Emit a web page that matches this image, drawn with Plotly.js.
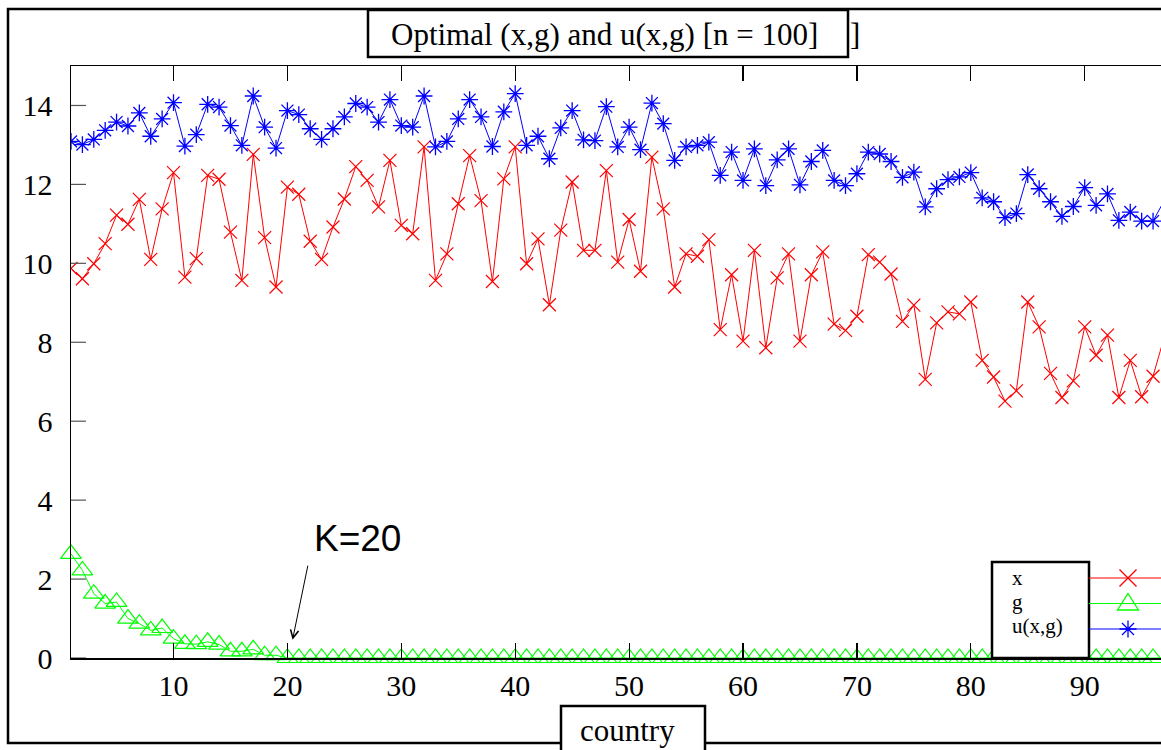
<!DOCTYPE html>
<html>
<head>
<meta charset="utf-8">
<script src="https://cdn.plot.ly/plotly-3.0.1.min.js"></script>
<style>html,body{margin:0;padding:0;background:#fff;}#chart{width:1161px;height:750px;}</style>
</head>
<body>
<div id="chart"></div>
<script>
// ---- data ----
const seriesNames = ["x", "g", "u(x,g)"];
const xValues = [9.87,9.61,9.99,10.50,11.22,10.99,11.62,10.10,11.38,12.30,
  9.65,10.12,12.23,12.13,10.79,9.57,12.76,10.65,9.40,11.93,
  11.75,10.56,10.10,10.92,11.63,12.45,12.10,11.43,12.61,10.96,
  10.75,12.95,9.57,10.24,11.51,12.73,11.59,9.54,12.14,12.95,
  9.99,10.62,8.95,10.84,12.06,10.33,10.33,12.35,10.03,11.11,
  9.80,12.69,11.38,9.40,10.24,10.18,10.60,8.32,9.71,8.03,
  10.33,7.86,9.63,10.24,8.03,9.71,10.29,8.46,8.30,8.66,
  10.22,10.03,9.73,8.53,8.94,7.06,8.49,8.77,8.72,9.02,
  7.54,7.12,6.51,6.77,9.02,8.39,7.21,6.60,7.02,8.39,
  7.67,8.18,6.60,7.54,6.62,7.14,8.15];
const gValues = [2.64,2.22,1.63,1.38,1.42,1.00,0.87,0.70,0.76,0.49,
  0.36,0.35,0.41,0.34,0.17,0.17,0.22,0.07,0.07,0,
  0,0,0,0,0,0,0,0,0,0, 0,0,0,0,0,0,0,0,0,0,
  0,0,0,0,0,0,0,0,0,0, 0,0,0,0,0,0,0,0,0,0,
  0,0,0,0,0,0,0,0,0,0, 0,0,0,0,0,0,0,0,0,0,
  0,0,0,0,0,0,0,0,0,0, 0,0,0,0,0,0,0];
const uValues = [13.09,13.01,13.14,13.37,13.58,13.48,13.81,13.22,13.66,14.07,
  12.97,13.26,14.03,13.96,13.49,12.99,14.24,13.45,12.92,13.87,
  13.77,13.41,13.14,13.41,13.71,14.05,13.96,13.58,14.15,13.49,
  13.45,14.24,12.95,13.09,13.66,14.15,13.71,12.96,13.84,14.30,
  12.99,13.22,12.65,13.43,13.87,13.13,13.11,13.97,12.95,13.45,
  12.88,14.06,13.54,12.61,12.95,12.99,13.07,12.23,12.82,12.10,
  12.90,11.97,12.62,12.90,11.99,12.58,12.86,12.10,11.97,12.27,
  12.82,12.77,12.58,12.18,12.31,11.43,11.89,12.12,12.19,12.30,
  11.66,11.56,11.16,11.26,12.25,11.89,11.56,11.19,11.44,11.92,
  11.47,11.76,11.09,11.30,11.07,11.07,11.60];
const country = xValues.map((_, i) => i + 1);
const xTicks = [10,20,30,40,50,60,70,80,90];
const yTicks = [0,2,4,6,8,10,12,14];
const titleText = "Optimal (x,g) and u(x,g) [n = 100]";
const xAxisText = "country";
const kLabel = "K=20";
const kIndex = 20;

// ---- layout helpers (pixel -> paper) ----
const L = 71, R = 1161, T = 66, B = 658;
const px = v => (v - L) / (R - L);
const py = v => (B - v) / (B - T);
const serif = "Liberation Serif";

const traces = [
  {x: country, y: xValues, name: seriesNames[0], type: "scatter", mode: "lines+markers",
   line: {color: "#ff0000", width: 1},
   marker: {symbol: "x-thin-open", size: 13, color: "#ff0000", line: {color: "#ff0000", width: 1.2}},
   cliponaxis: true},
  {x: country, y: gValues, name: seriesNames[1], type: "scatter", mode: "lines+markers",
   line: {color: "#00ff00", width: 1},
   marker: {symbol: "triangle-up-open", size: 18, color: "#00ff00", line: {color: "#00ff00", width: 1.2}},
   cliponaxis: false},
  {x: country, y: uValues, name: seriesNames[2], type: "scatter", mode: "lines+markers",
   line: {color: "#0000ff", width: 1},
   marker: {symbol: "asterisk-open", size: 14, color: "#0000ff", line: {color: "#0000ff", width: 1.3}},
   cliponaxis: true}
];

function rect(x0, y0, x1, y1, fill, w) {
  return {type: "rect", xref: "paper", yref: "paper", x0: px(x0), x1: px(x1), y0: py(y0), y1: py(y1),
          line: {color: "#000", width: w}, fillcolor: fill, layer: "above"};
}
function seg(x0, y0, x1, y1, color) {
  return {type: "line", xref: "paper", yref: "paper", x0: px(x0), x1: px(x1), y0: py(y0), y1: py(y1),
          line: {color: color, width: 1.2}, layer: "above"};
}
function pathShape(pts, color, closed) {
  let d = "";
  pts.forEach((p, i) => { d += (p[2] ? "M" : "L") + px(p[0]) + "," + py(p[1]) + " "; });
  if (closed) d += "Z";
  return {type: "path", xref: "paper", yref: "paper", path: d, line: {color: color, width: 1.3}, layer: "above"};
}

const lx = 1128;
// inward y tick marks (the axis' own ticks are kept transparent and outside to space the labels)
const yTickMarks = yTicks.map(v => ({type: "line", xref: "paper", yref: "y", x0: 0, x1: px(L + 15),
  y0: v, y1: v, line: {color: "#555", width: 1.2}, layer: "above"}));
const shapes = yTickMarks.concat([
  rect(8, 9, 1175, 743, "rgba(0,0,0,0)", 2.5),
  rect(368, 10, 848, 57, "#ffffff", 2.5),
  rect(561, 706, 705, 770, "#ffffff", 2.5),
  rect(992, 562, 1089, 658, "#ffffff", 2.5),
  seg(1089, 578, 1170, 578, "#ff0000"),
  seg(1089, 603.5, 1170, 603.5, "#00ff00"),
  seg(1089, 629, 1170, 629, "#0000ff"),
  pathShape([[lx-8.5,569.5,1],[lx+8.5,586.5],[lx-8.5,586.5,1],[lx+8.5,569.5]], "#ff0000", false),
  pathShape([[lx,593.5,1],[lx+10.5,610],[lx-10.5,610]], "#00ff00", true),
  pathShape([[lx-8.5,629,1],[lx+8.5,629],[lx,620.5,1],[lx,637.5],[lx-6,623,1],[lx+6,635],[lx-6,635,1],[lx+6,623]], "#0000ff", false)
]);

const annotations = [
  {xref: "paper", yref: "paper", x: px(604), y: py(34), text: titleText, showarrow: false,
   xanchor: "center", yanchor: "middle", font: {family: serif, size: 31, color: "#000"}},
  {xref: "paper", yref: "paper", x: px(855), y: py(34), text: "]", showarrow: false,
   xanchor: "center", yanchor: "middle", font: {family: serif, size: 31, color: "#000"}},
  {xref: "paper", yref: "paper", x: px(627), y: py(730), text: xAxisText, showarrow: false,
   xanchor: "center", yanchor: "middle", font: {family: serif, size: 31, color: "#000"}},
  {xref: "paper", yref: "paper", x: px(1010), y: py(578), text: seriesNames[0], showarrow: false,
   xanchor: "left", yanchor: "middle", font: {family: serif, size: 21, color: "#000"}},
  {xref: "paper", yref: "paper", x: px(1010), y: py(602), text: seriesNames[1], showarrow: false,
   xanchor: "left", yanchor: "middle", font: {family: serif, size: 21, color: "#000"}},
  {xref: "paper", yref: "paper", x: px(1010), y: py(626), text: seriesNames[2], showarrow: false,
   xanchor: "left", yanchor: "middle", font: {family: serif, size: 21, color: "#000"}},
  {xref: "paper", yref: "paper", x: px(357), y: py(538), text: kLabel, showarrow: false,
   xanchor: "center", yanchor: "middle", font: {family: "Liberation Sans", size: 37, color: "#000"}},
  {xref: "x", yref: "y", x: kIndex + 0.45, y: 0.46, text: "", showarrow: true,
   ax: 15.6, ay: -75.7, arrowhead: 5, arrowsize: 1.6, arrowwidth: 1, arrowcolor: "#000", standoff: 0}
];

const layout = {
  width: 1161, height: 750, autosize: false,
  font: {family: serif, size: 30, color: "#000000"},
  margin: {l: L, r: 1161 - R, t: T, b: 750 - B, pad: 0},
  paper_bgcolor: "#ffffff", plot_bgcolor: "#ffffff",
  showlegend: false,
  xaxis: {
    range: [1, 1 + (R - L) / 11.39], tickvals: xTicks,
    ticks: "inside", ticklen: 15, tickwidth: 1.2, tickcolor: "#000",
    showline: true, linecolor: "#000", linewidth: 1.5, mirror: "ticks",
    showgrid: false, zeroline: false,
    tickfont: {family: serif, size: 30, color: "#000000"}
  },
  yaxis: {
    range: [0, 15], tickvals: yTicks,
    ticks: "outside", ticklen: 11, tickwidth: 1, tickcolor: "rgba(0,0,0,0)",
    showline: true, linecolor: "#000", linewidth: 1.5, mirror: true,
    showgrid: false, zeroline: false,
    tickfont: {family: serif, size: 30, color: "#000000"}
  },
  shapes: shapes,
  annotations: annotations
};

Plotly.newPlot("chart", traces, layout, {displayModeBar: false, staticPlot: true});
</script>
</body>
</html>
